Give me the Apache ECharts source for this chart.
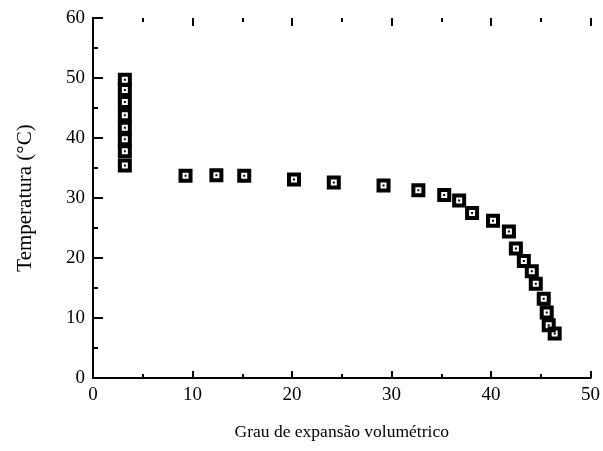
<!DOCTYPE html>
<html>
<head>
<meta charset="utf-8">
<script src="https://cdn.jsdelivr.net/npm/echarts@6/dist/echarts.min.js"></script>
<style>
  html, body { margin: 0; padding: 0; background: #fff; }
  #chart { width: 603px; height: 451px; }
</style>
</head>
<body>
<div id="chart"></div>
<script>
// grau de expansão volumétrico vs temperatura
const expansao = [3.2, 3.2, 3.2, 3.2, 3.2, 3.2, 3.2, 3.2,
  9.3, 12.4, 15.2, 20.2, 24.2, 29.2, 32.7, 35.3, 36.8, 38.1, 40.2, 41.8,
  42.5, 43.3, 44.1, 44.5, 45.3, 45.6, 45.8, 46.4]
const temperatura = [49.7, 48, 46, 43.8, 41.7, 39.8, 37.8, 35.4,
  33.7, 33.8, 33.7, 33.1, 32.6, 32.1, 31.3, 30.5, 29.6, 27.5, 26.2, 24.4,
  21.6, 19.5, 17.8, 15.7, 13.2, 10.9, 8.8, 7.4]
const xTicks = [0, 10, 20, 30, 40, 50]
const yTicks = [0, 10, 20, 30, 40, 50, 60]

const fonte = 'Liberation Serif'
// quadrado preto com furo branco e ponto central
const marcador = 'path://M0,0H14V14H0Z M4,4V10H10V4Z M6,6H8V8H6Z'
const preto = { color: '#000', width: 2 }

// eixo auxiliar só com marcas, deslocado para dentro para que as marcas fiquem viradas para dentro
const marcas = (position, ticks, interval, length) => ({
  type: 'value',
  position,
  min: ticks[0],
  max: ticks[ticks.length - 1],
  interval,
  offset: -length,
  axisLine: { show: false },
  axisTick: { show: true, inside: false, length, lineStyle: preto },
  axisLabel: { show: false },
  splitLine: { show: false },
})

let myChart = echarts.init(document.getElementById('chart'))
myChart.setOption({
  animation: false,
  grid: { left: 93, right: 11, top: 18, bottom: 73 },
  xAxis: [
    {
      type: 'value',
      min: xTicks[0],
      max: xTicks[xTicks.length - 1],
      interval: 10,
      name: 'Grau de expansão volumétrico',
      nameLocation: 'middle',
      nameGap: 45,
      nameTextStyle: { fontFamily: fonte, fontSize: 17.5, color: '#000' },
      axisLine: { lineStyle: preto },
      axisTick: { show: false },
      axisLabel: { fontFamily: fonte, fontSize: 19, color: '#000', margin: 8 },
      splitLine: { show: false },
    },
    {
      type: 'value',
      position: 'top',
      min: xTicks[0],
      max: xTicks[xTicks.length - 1],
      interval: 10,
      axisLine: { show: true, lineStyle: preto },
      axisTick: { show: false },
      axisLabel: { show: false },
      splitLine: { show: false },
    },
    marcas('bottom', xTicks, 10, 7),
    marcas('bottom', xTicks, 5, 4),
    marcas('top', xTicks, 10, 8),
    marcas('top', xTicks, 5, 4),
  ],
  yAxis: [
    {
      type: 'value',
      min: yTicks[0],
      max: yTicks[yTicks.length - 1],
      interval: 10,
      name: 'Temperatura (°C)',
      nameLocation: 'middle',
      nameGap: 57,
      nameTextStyle: { fontFamily: fonte, fontSize: 21, color: '#000' },
      axisLine: { show: true, lineStyle: preto },
      axisTick: { show: false },
      axisLabel: { fontFamily: fonte, fontSize: 19, color: '#000', margin: 8 },
      splitLine: { show: false },
    },
    {
      type: 'value',
      position: 'right',
      min: yTicks[0],
      max: yTicks[yTicks.length - 1],
      interval: 10,
      axisLine: { show: true, lineStyle: preto },
      axisTick: { show: false },
      axisLabel: { show: false },
      splitLine: { show: false },
    },
    marcas('left', yTicks, 10, 10),
    marcas('left', yTicks, 5, 5),
  ],
  series: [
    {
      type: 'scatter',
      xAxisIndex: 0,
      yAxisIndex: 0,
      symbol: marcador,
      symbolSize: 14,
      itemStyle: { color: '#000', opacity: 1 },
      data: expansao.map((x, i) => [x, temperatura[i]]),
    },
  ],
})
</script>
</body>
</html>
